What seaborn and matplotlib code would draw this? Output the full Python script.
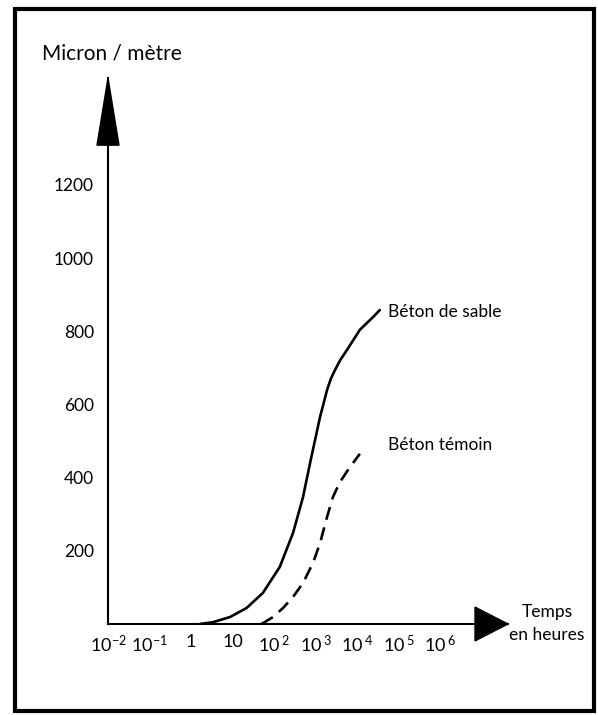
import matplotlib
matplotlib.use("Agg")
import matplotlib.pyplot as plt
from matplotlib.patches import Polygon, Rectangle
import seaborn as sns
import pandas as pd

# ---- data ----
sable_hours = [1.65, 3.4, 8.7, 22, 54, 138, 288, 501, 741, 977, 1288, 1585, 1905, 2344, 2951, 3981, 5754, 11749, 24547, 35481]
sable_values = [0, 5, 19, 44, 85, 156, 249, 347, 440, 503, 566, 605, 640, 670, 694, 722, 749, 804, 839, 858]
temoin_hours = [50, 95, 166, 288, 501, 871, 1288, 1905, 2630, 3890, 6761, 11749]
temoin_values = [0, 19, 44, 74, 112, 167, 221, 293, 347, 388, 429, 465]

y_ticks = [200, 400, 600, 800, 1000, 1200]
x_ticks = [1e-2, 1e-1, 1, 10, 1e2, 1e3, 1e4, 1e5, 1e6]
x_labels = [r"$\mathregular{10^{-2}}$", r"$\mathregular{10^{-1}}$", "1", "10",
            r"$\mathregular{10^{\,2}}$", r"$\mathregular{10^{\,3}}$", r"$\mathregular{10^{\,4}}$",
            r"$\mathregular{10^{\,5}}$", r"$\mathregular{10^{\,6}}$"]

sns.set_style("white")
plt.rcParams["font.family"] = ["Lato", "DejaVu Sans"]
plt.rcParams["text.color"] = "black"

W, H = 598, 715
fig = plt.figure(figsize=(W / 100, H / 100), dpi=100)
ax = fig.add_axes([108 / W, (H - 624) / H, 400 / W, 546 / H])

df_s = pd.DataFrame({"h": sable_hours, "v": sable_values})
df_t = pd.DataFrame({"h": temoin_hours, "v": temoin_values})
sns.lineplot(data=df_s, x="h", y="v", ax=ax, color="black", lw=1.9, sort=False)
sns.lineplot(data=df_t, x="h", y="v", ax=ax, color="black", lw=1.9, sort=False,
             linestyle=(0, (5, 3)))

ax.set_xscale("log")
ax.set_xlim(1e-2, 10 ** 7.639)
ax.set_ylim(0, 1492)
ax.minorticks_off()
ax.set_xticks(x_ticks)
ax.set_xticklabels(x_labels)
ax.set_yticks(y_ticks)
ax.set_yticklabels([str(v) for v in y_ticks])
ax.set_xlabel("")
ax.set_ylabel("")
ax.tick_params(axis="x", direction="in", length=6, width=1, pad=7, labelsize=13,
               colors="black", labelcolor="black")
ax.tick_params(axis="y", direction="in", length=4, width=1, pad=10, labelsize=12.5,
               colors="black", labelcolor="black")
ax.set_facecolor("white")
for s in ["top", "right"]:
    ax.spines[s].set_visible(False)
for s in ["left", "bottom"]:
    ax.spines[s].set_color("black")
    ax.spines[s].set_linewidth(1.5)

# arrow heads
ax.add_patch(Polygon([(-0.0275, 0.877), (0.0275, 0.877), (0.0, 1.0)], closed=True,
                     transform=ax.transAxes, color="black", clip_on=False, zorder=5))
ax.add_patch(Polygon([(0.9175, -0.031), (0.9175, 0.031), (1.0, 0.0)], closed=True,
                     transform=ax.transAxes, color="black", clip_on=False, zorder=5))

# texts
def ftext(px, py, s, **kw):
    fig.text(px / W, 1 - py / H, s, color="black", **kw)

ftext(42, 53, "Micron / mètre", ha="left", va="center", fontsize=15)
ftext(547, 612, "Temps", ha="center", va="center", fontsize=12.5)
ftext(547, 635, "en heures", ha="center", va="center", fontsize=12.5)
ftext(388, 312, "Béton de sable", ha="left", va="center", fontsize=12.5)
ftext(388, 445, "Béton témoin", ha="left", va="center", fontsize=12.5)

# frame
fig.patches.append(Rectangle((15 / W, 4 / H), 579 / W, 702 / H, transform=fig.transFigure,
                             fill=False, edgecolor="black", lw=3))

fig.savefig("out.png", dpi=100, facecolor="white")
